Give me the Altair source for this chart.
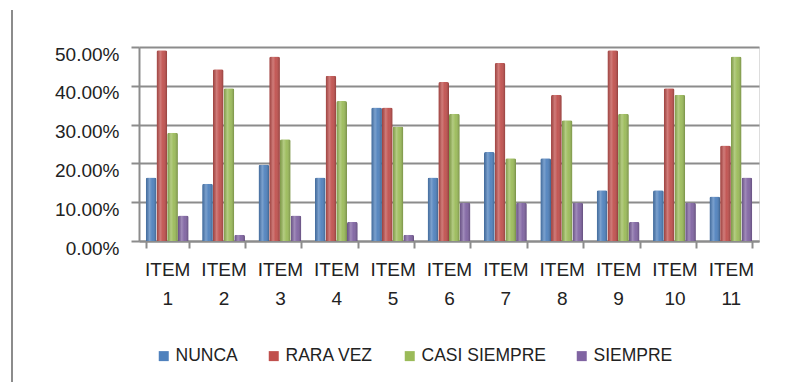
import altair as alt
import pandas as pd

items = [f"ITEM {i}" for i in range(1, 12)]
series = ["NUNCA", "RARA VEZ", "CASI SIEMPRE", "SIEMPRE"]
nunca = [0.1639, 0.1475, 0.1967, 0.1639, 0.3443, 0.1639, 0.2295, 0.2131, 0.1311, 0.1311, 0.1148]
rara_vez = [0.4918, 0.4426, 0.4754, 0.4262, 0.3443, 0.4098, 0.4590, 0.3770, 0.4918, 0.3934, 0.2459]
casi_siempre = [0.2787, 0.3934, 0.2623, 0.3607, 0.2951, 0.3279, 0.2131, 0.3115, 0.3279, 0.3770, 0.4754]
siempre = [0.0656, 0.0164, 0.0656, 0.0492, 0.0164, 0.0984, 0.0984, 0.0984, 0.0492, 0.0984, 0.1639]
colors = ["#4F81BD", "#C0504D", "#9BBB59", "#8064A2"]

rows = []
for s, vals in zip(series, [nunca, rara_vez, casi_siempre, siempre]):
    for it, v in zip(items, vals):
        rows.append({"item": it, "serie": s, "valor": v})
df = pd.DataFrame(rows)

FONT = "Liberation Sans"

x_enc = alt.X(
    "item:N", sort=items, title=None,
    scale=alt.Scale(paddingInner=0.24, paddingOuter=0.12),
    axis=alt.Axis(
        labelAngle=0, labelFontSize=19, labelFont=FONT, labelColor="#222222",
        labelExpr="split(datum.label, ' ')", labelLineHeight=29,
        labelPadding=12, tickBand="extent", tickOffset=-5,
        tickColor="#8c8c8c", tickWidth=2, tickSize=7,
        domainColor="#8c8c8c", domainWidth=2, grid=False,
    ),
)
xo_enc = alt.XOffset("serie:N", sort=series, scale=alt.Scale(domain=series, paddingInner=0, paddingOuter=0))
y_enc = alt.Y(
    "valor:Q", title=None,
    scale=alt.Scale(domain=[0, 0.5], nice=False),
    axis=alt.Axis(
        format=".2%", values=[0, 0.1, 0.2, 0.3, 0.4, 0.5],
        labelFontSize=19, labelFont=FONT, labelColor="#222222",
        labelOffset=7, labelPadding=12, labelOverlap=False,
        tickColor="#8c8c8c", tickWidth=2, tickSize=8,
        domainColor="#8c8c8c", domainWidth=2,
        grid=True, gridColor="#8c8c8c", gridWidth=2,
    ),
)

bars = alt.Chart(df).mark_bar(cornerRadiusTopLeft=2, cornerRadiusTopRight=2).encode(
    x=x_enc, xOffset=xo_enc, y=y_enc,
    color=alt.Color(
        "serie:N", sort=series,
        scale=alt.Scale(domain=series, range=colors),
        legend=alt.Legend(
            title=None, orient="none", legendX=16, legendY=300,
            direction="horizontal", columns=4, symbolType="square",
            symbolSize=100, symbolStrokeWidth=0, labelFontSize=17.5,
            labelFont=FONT, labelColor="#222222", labelOffset=3,
            columnPadding=27, padding=0,
        ),
    ),
)

shade = alt.Chart(df).mark_bar(
    cornerRadiusTopLeft=2, cornerRadiusTopRight=2,
    color=alt.Gradient(
        gradient="linear", x1=0, x2=1, y1=0, y2=0,
        stops=[
            alt.GradientStop(offset=0, color="rgba(0,0,0,0.18)"),
            alt.GradientStop(offset=0.35, color="rgba(255,255,255,0.25)"),
            alt.GradientStop(offset=0.6, color="rgba(255,255,255,0.05)"),
            alt.GradientStop(offset=1, color="rgba(0,0,0,0.25)"),
        ],
    ),
).encode(x=x_enc, xOffset=xo_enc, y=y_enc)

frame = alt.Chart(df).mark_rule(color="#8c8c8c", strokeWidth=2).encode(
    x=alt.value(-127), y=alt.value(-37), y2=alt.value(340)
)

chart = alt.layer(bars, shade, frame).properties(
    width=620, height=194,
    autosize=alt.AutoSizeParams(type="none"),
    padding={"left": 139, "top": 47, "right": 41, "bottom": 141},
).configure_view(stroke=None).configure_axis(labelOverlap=False).configure(background="white")

chart.save("out.html", embed_options={"renderer": "svg", "actions": False})
